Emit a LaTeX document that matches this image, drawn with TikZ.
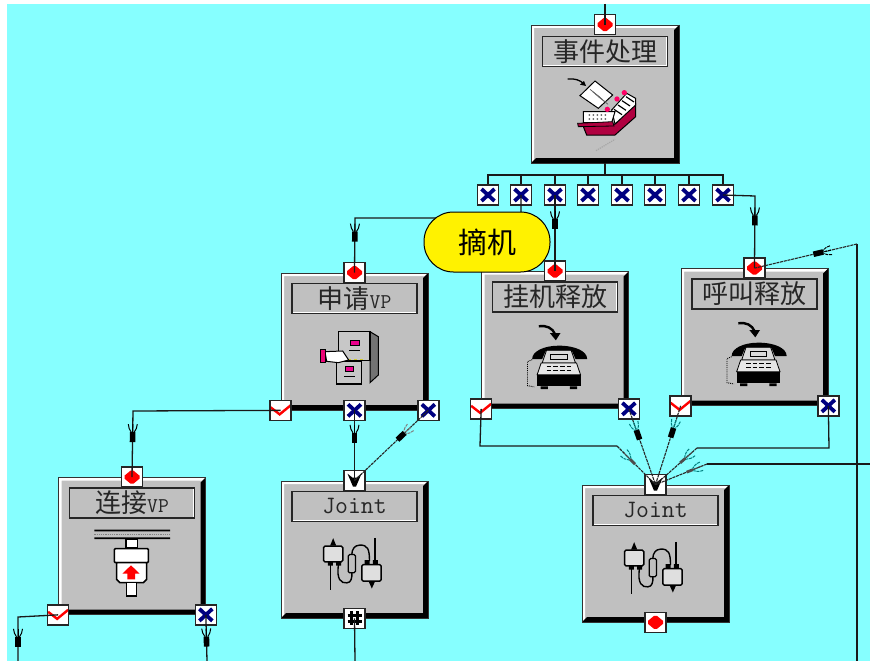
\documentclass[tikz,border=0pt]{standalone}
\usepackage{fontspec}
\newfontfamily\cjk{Noto Sans CJK SC}
\usetikzlibrary{arrows.meta, positioning, calc}
\definecolor{bgcyan}{HTML}{86FFFF}
\definecolor{panelgray}{HTML}{C0C0C0}
\definecolor{navyx}{HTML}{000080}
\definecolor{trayred}{HTML}{B00040}
\tikzset{
  wire/.style={draw=black!90, line width=1.3pt},
  slimwire/.style={draw=black!85, line width=1.1pt, dash pattern=on 3pt off .8pt},
  blockbox/.style={draw=black!80, line width=.7pt, fill=panelgray, minimum width=147pt,
    minimum height=137pt, inner sep=0pt, path picture={
      \fill[white] (path picture bounding box.south west) -- (path picture bounding box.north west)
        -- (path picture bounding box.north east) -- ([shift={(-3pt,-3pt)}]path picture bounding box.north east)
        -- ([shift={(3pt,-3pt)}]path picture bounding box.north west) -- ([shift={(3pt,3pt)}]path picture bounding box.south west) -- cycle;
      \fill[black] (path picture bounding box.north east) -- (path picture bounding box.south east)
        -- (path picture bounding box.south west) -- ([shift={(5pt,5pt)}]path picture bounding box.south west)
        -- ([shift={(-5pt,5pt)}]path picture bounding box.south east) -- ([shift={(-5pt,-5pt)}]path picture bounding box.north east) -- cycle;
    }},
  titlebox/.style={draw=black!85, line width=1.5pt, fill=panelgray, minimum width=125pt,
    minimum height=30pt, inner sep=0pt, text=black!85, font=\fontsize{26}{26}\selectfont,
    path picture={
      \draw[white, line width=2.4pt] (path picture bounding box.south west) -- (path picture bounding box.south east) -- (path picture bounding box.north east);
    }},
  portbox/.style={draw=black!85, line width=1.5pt, fill=white, minimum width=21pt, minimum height=20pt, inner sep=0pt},
  portdiamond/.style={portbox, path picture={
      \fill[red] ([shift={(-7.5pt,1.5pt)}]path picture bounding box.center) -- ([shift={(-1.5pt,6.5pt)}]path picture bounding box.center)
        -- ([shift={(1.5pt,6.5pt)}]path picture bounding box.center) -- ([shift={(7.5pt,1.5pt)}]path picture bounding box.center)
        -- ([shift={(7.5pt,-1.5pt)}]path picture bounding box.center) -- ([shift={(1.5pt,-6.5pt)}]path picture bounding box.center)
        -- ([shift={(-1.5pt,-6.5pt)}]path picture bounding box.center) -- ([shift={(-7.5pt,-1.5pt)}]path picture bounding box.center) -- cycle;
    }},
  portcross/.style={portbox, path picture={
      \draw[navyx, line width=3.8pt] ([shift={(-6.5pt,6pt)}]path picture bounding box.center) -- ([shift={(6.5pt,-6pt)}]path picture bounding box.center);
      \draw[navyx, line width=3.8pt] ([shift={(-6.5pt,-6pt)}]path picture bounding box.center) -- ([shift={(6.5pt,6pt)}]path picture bounding box.center);
    }},
  portcheck/.style={portbox, path picture={
      \draw[red, line width=2.4pt] ([shift={(-10pt,3pt)}]path picture bounding box.center) -- ([shift={(-1pt,-4pt)}]path picture bounding box.center)
        -- ([shift={(10pt,5pt)}]path picture bounding box.center);
    }},
  porthead/.style={portbox, path picture={
      \fill[black] ([shift={(-7pt,7pt)}]path picture bounding box.center) -- ([shift={(-1.5pt,-6pt)}]path picture bounding box.center)
        -- ([shift={(1.5pt,-6pt)}]path picture bounding box.center) -- ([shift={(7pt,7pt)}]path picture bounding box.center)
        -- ([shift={(2pt,3pt)}]path picture bounding box.center) -- ([shift={(-2pt,3pt)}]path picture bounding box.center) -- cycle;
    }},
  porthash/.style={portbox, path picture={
      \draw[black, line width=2.6pt] ([shift={(-3pt,7pt)}]path picture bounding box.center) -- ([shift={(-3pt,-7pt)}]path picture bounding box.center);
      \draw[black, line width=2.6pt] ([shift={(3pt,7pt)}]path picture bounding box.center) -- ([shift={(3pt,-7pt)}]path picture bounding box.center);
      \draw[black, line width=2.6pt] ([shift={(-7pt,3pt)}]path picture bounding box.center) -- ([shift={(7pt,3pt)}]path picture bounding box.center);
      \draw[black, line width=2.6pt] ([shift={(-7pt,-3pt)}]path picture bounding box.center) -- ([shift={(7pt,-3pt)}]path picture bounding box.center);
    }},
  eventbubble/.style={draw=black, line width=1pt, fill=yellow, rounded corners=29.5pt, minimum width=126pt,
    minimum height=60pt, inner sep=0pt, font=\fontsize{29}{29}\selectfont},
  pics/plug/.style={code={
    \fill[black] (0,-2.8) rectangle (10,2.8);
    \draw[#1, line width=1pt] (-8,-4.5) .. controls (-5,-4.5) and (-2,-3) .. (0,-1.5);
    \draw[#1, line width=1pt] (-8,4.5) .. controls (-5,4.5) and (-2,3) .. (0,1.5);
    \draw[#1, line width=1pt] (-8,0) -- (0,0);
  }},
  pics/thinplug/.style={code={
    \fill[black!70] (0,-1.4) rectangle (7,1.4);
    \draw[#1, line width=1pt] (-9,-4.5) .. controls (-5,-4.5) and (-2,-3) .. (0,-1.2);
    \draw[#1, line width=1pt] (-9,4.5) .. controls (-5,4.5) and (-2,3) .. (0,1.2);
    \draw[black!70, line width=1pt] (-9,0) -- (0,0);
  }},
  slimplug/.style={pos=#1, sloped, allow upside down},
  pics/phoneicon/.style={code={
    \begin{scope}[scale=1/3, shift={(-283.5,-351)}]
      \draw[black, line width=2.4pt] (235,310) .. controls (258,306) and (276,315) .. (284,334);
      \fill[black] (268,330) -- (300,330) -- (286,352) -- cycle;
      \fill[black] (215,408) .. controls (215,385) and (250,368) .. (295,368) .. controls (345,368) and (380,385) .. (380,408) -- (345,408) -- (335,385) -- (255,385) -- (245,408) -- cycle;
      \fill[panelgray!60!white, draw=black, line width=.8pt] (258,382) -- (332,382) -- (345,420) -- (245,420) -- cycle;
      \fill[panelgray!40!white, draw=black, line width=.8pt] (242,420) -- (348,420) -- (360,455) -- (230,455) -- cycle;
      \foreach \kx in {258,278,298,318} { \draw[black, line width=.8pt] (\kx,430) -- ++(14,0) (\kx,442) -- ++(14,0); }
      \draw[black, line width=.8pt] (270,395) rectangle (320,408);
      \fill[black] (230,455) rectangle (360,490);
      \fill[black] (240,490) rectangle (262,498) (328,490) rectangle (350,498);
      \draw[black, line width=.9pt, densely dotted] (215,410) -- (201,416) -- (201,488) -- (222,492);
    \end{scope}
  }},
  pics/jointicon/.style={code={
    \begin{scope}[scale=1/3, shift={(-585,-490)}]
      \draw[black, line width=1.5pt, rounded corners=1.5pt, fill=panelgray!50!white] (492,480) rectangle (550,527);
      \draw[black, line width=1.5pt, rounded corners=1.5pt, fill=panelgray!50!white] (607,535) rectangle (665,585);
      \fill[black] (512,478) -- (521,456) -- (530,478) -- cycle;
      \fill[black] (628,587) -- (637,607) -- (646,587) -- cycle;
      \fill[black] (505,528) rectangle (520,538) (530,528) rectangle (545,538);
      \fill[black] (615,522) rectangle (630,534) (640,522) rectangle (655,534);
      \draw[black, line width=1.6pt] (513,535) -- (513,610);
      \draw[black, line width=1.6pt] (647,455) -- (647,525);
      \draw[black, line width=1.4pt] (537,535) .. controls (530,580) and (545,592) .. (562,590) .. controls (575,590) and (578,575) .. (577,560);
      \draw[black, line width=1.4pt] (577,505) .. controls (577,490) and (585,477) .. (600,477) .. controls (625,475) and (630,490) .. (630,525);
      \draw[black, line width=1.2pt, fill=black!25, rounded corners=1.5pt] (566,505) rectangle (588,560);
    \end{scope}
  }},
  pics/cardicon/.style={code={
    \begin{scope}[scale=1/3, shift={(-405,-282)}]
      \draw[black, line width=1.3pt] (293,237) .. controls (315,235) and (330,240) .. (342,252);
      \fill[black] (330,254) -- (348,258) -- (342,243) -- cycle;
      \draw[black, line width=1pt, fill=trayred] (340,380) -- (435,372) -- (497,312) -- (497,350) -- (435,405) -- (350,405) -- cycle;
      \draw[black, line width=1pt, fill=white] (425,330) -- (470,280) -- (497,295) -- (497,315) -- (435,372) -- cycle;
      \foreach \tx/\ty in {432/328, 444/315, 456/302, 468/290} { \draw[black, line width=1.2pt] (\tx,\ty) -- ++(24,16); }
      \draw[black, line width=1pt, fill=white] (375,243) -- (428,285) -- (385,325) -- (330,287) -- cycle;
      \foreach \lx in {0,1,2,3} { \draw[black!60, line width=.8pt] (360+8*\lx,268+7*\lx) -- ++(30,24); }
      \draw[black, line width=1pt, fill=white] (340,335) -- (435,335) -- (425,368) -- (340,368) -- cycle;
      \foreach \dx in {358,370,382,394,406} { \fill[black!60] (\dx,345) circle (3) (\dx,357) circle (3); }
      \fill[trayred, draw=black, line width=.8pt] (323,370) -- (428,365) -- (432,378) -- (325,380) -- cycle;
      \fill[red!60!magenta] (463,278) circle (8) (441,297) circle (8) (412,328) circle (8);
      \draw[black!35, line width=1.2pt, densely dotted] (378,452) -- (435,418);
    \end{scope}
  }},
  pics/cabineticon/.style={code={
    \begin{scope}[scale=1/3, shift={(-253.5,-424.5)}]
      \draw[black, line width=1pt, fill=black!55] (300,395) -- (325,410) -- (325,525) -- (300,548) -- cycle;
      \draw[black, line width=1.2pt, fill=black!22] (205,395) rectangle (300,482);
      \draw[black, line width=1pt, fill=magenta] (240,422) rectangle (268,437);
      \draw[black, line width=.9pt] (238,450) -- (270,450);
      \draw[black, line width=1.2pt, fill=black!22] (200,485) rectangle (275,552);
      \draw[black, line width=1pt, fill=magenta] (225,500) rectangle (250,515);
      \draw[black, line width=.9pt] (222,530) -- (255,530);
      \draw[yellow!80!black, line width=1.2pt, dashed] (235,478) -- (288,478);
      \draw[black, line width=1pt, fill=white] (165,455) -- (218,453) -- (236,480) -- (205,488) -- (170,484) -- cycle;
      \draw[black, line width=1pt, fill=magenta!80!red] (150,447) rectangle (165,486);
    \end{scope}
  }},
  pics/pumpicon/.style={code={
    \begin{scope}[scale=1/3, shift={(-396,-435)}]
      \fill[black] (283,386) rectangle (510,391) (283,409) rectangle (510,414);
      \draw[black!50, line width=1.2pt, densely dotted] (283,400) -- (510,400);
      \draw[black, line width=1.2pt, fill=white] (378,414) rectangle (412,440);
      \draw[black, line width=1.6pt, fill=white, rounded corners=1pt] (343,443) rectangle (445,485);
      \draw[black, line width=1.6pt, fill=white] (350,485) -- (440,485) -- (440,535) -- (430,545) -- (360,545) -- (350,535) -- cycle;
      \draw[black, line width=1.2pt, fill=white] (380,545) rectangle (410,585);
      \fill[red] (393,493) -- (419,518) -- (405,518) -- (405,535) -- (382,535) -- (382,518) -- (367,518) -- cycle;
    \end{scope}
  }},
}

\begin{document}
\begin{tikzpicture}[x=1pt, y=-1pt]
  \useasboundingbox (0,0) rectangle (870,661);
  \fill[bgcyan] (7,4) rectangle (870,661);

  % blocks
  \node[blockbox, minimum width=148pt, minimum height=138pt] (ev) at (605,94) {};
  \node[blockbox] (ap) at (354.5,341.5) {};
  \node[blockbox] (ha) at (555,340) {};
  \node[blockbox] (ca) at (754.5,337) {};
  \node[blockbox] (li) at (132,546) {};
  \node[blockbox] (jl) at (354.5,549.5) {};
  \node[blockbox] (jr) at (655.5,553.5) {};

  \node[titlebox, below=11pt of ev.north] (evtitle) {\cjk 事件处理};
  \node[titlebox, below=10pt of ap.north] (aptitle) {\cjk 申请\fontsize{21}{21}\selectfont\ttfamily VP};
  \node[titlebox, below=10pt of ha.north] (hatitle) {\cjk 挂机释放};
  \node[titlebox, below=10pt of ca.north] (catitle) {\cjk 呼叫释放};
  \node[titlebox, below=10pt of li.north] (lititle) {\cjk 连接\fontsize{21}{21}\selectfont\ttfamily VP};
  \node[titlebox, below=10pt of jl.north, font=\fontsize{25}{25}\selectfont\ttfamily] (jltitle) {Joint};
  \node[titlebox, below=10pt of jr.north, font=\fontsize{25}{25}\selectfont\ttfamily] (jrtitle) {Joint};

  \pic at (ev.center) {cardicon};
  \pic at (ap.center) {cabineticon};
  \pic at (ha.center) {phoneicon};
  \pic at (ca.center) {phoneicon};
  \pic at (li.center) {pumpicon};
  \pic at (jl.center) {jointicon};
  \pic at (jr.center) {jointicon};

  % ports
  \node[portdiamond] (evin) at (ev.north) {};
  \node[portdiamond] (apin) at (ap.north) {};
  \node[portdiamond] (cain) at (ca.north) {};
  \node[portdiamond] (liin) at (li.north) {};
  \node[porthead] (jlin) at (jl.north) {};
  \node[porthead] (jrin) at (jr.north) {};
  \node[portdiamond] (jrout) at (jr.south) {};
  \node[porthash] (jlout) at (jl.south) {};
  \node[portcheck] (apok) at (ap.south west) {};
  \node[portcross] (apmid) at (ap.south) {};
  \node[portcross] (apend) at (ap.south east) {};
  \node[portcheck] (haok) at (ha.south west) {};
  \node[portcross] (haend) at (ha.south east) {};
  \node[portcheck] (caok) at (ca.south west) {};
  \node[portcross] (caend) at (ca.south east) {};
  \node[portcheck] (liok) at (li.south west) {};
  \node[portcross] (liend) at (li.south east) {};

  \coordinate (feed) at (605,4);
  \coordinate (bus) at (605,175);
  \draw[wire] (feed) -- (evin.center);
  \draw[wire] (ev.south) -- (bus);
  \foreach \i/\x in {1/488, 2/521, 3/555, 4/588, 5/622, 6/655, 7/689, 8/723} {
    \node[portcross] (x\i) at (\x,195) {};
    \draw[wire] (bus) -| (x\i.north);
  }

  % wire under the bubble
  \coordinate (c2) at (355,218);
  \draw[wire] (x2.center) |- (c2) -- (apin.center) pic[slimplug=.25] {plug=black};

  \node[eventbubble] (bubble) at (487,242) {\cjk 摘机};
  \node[portdiamond] (hain) at (ha.north) {};

  \coordinate (c8) at (755,196);
  \coordinate (c9) at (133,411);
  \coordinate (c10) at (18,617);
  \coordinate (c11) at (480,446);
  \coordinate (c12) at (617,446);
  \coordinate (c13) at (829,448);
  \coordinate (c14) at (697,448);
  \coordinate (c15) at (870,464);
  \coordinate (c16) at (707,464);
  \coordinate (longtop) at (857,244);
  \coordinate (longend) at (857,661);
  \coordinate (liokend) at (18,661);
  \coordinate (liendend) at (207,661);
  \coordinate (jlend) at (355,661);

  \draw[wire] (x3.center) -- (hain.center) pic[slimplug=.32] {plug=black};
  \draw[wire] (x8.center) -- (c8) -- (cain.center) pic[slimplug=.27] {plug=black};
  \draw[wire] (longend) -- (longtop);
  \draw[slimwire] (longtop) -- (cain.center) pic[slimplug=.33] {plug=black};
  \draw[wire] (apok.center) -- (c9) -- (liin.center) pic[slimplug=.32] {plug=black};
  \draw[wire] (apmid.center) -- (jlin.center) pic[slimplug=.32] {plug=black};
  \draw[slimwire] (apend.center) -- (jlin.center) pic[slimplug=.32] {plug=black!50};
  \draw[wire] (liok.center) -- (c10) -- (liokend) pic[slimplug=.45] {plug=black};
  \draw[wire] (liend.center) -- (liendend) pic[slimplug=.47] {plug=black};
  \draw[wire] (jlout.center) -- (jlend);

  \draw[wire] (haok.center) -- (c11) -- (c12);
  \draw[slimwire] (c12) -- (jrin.center) pic[slimplug=.34] {thinplug=teal};
  \draw[slimwire] (haend.center) -- (jrin.center) pic[slimplug=.28] {plug=teal};
  \draw[slimwire] (caok.center) -- (jrin.center) pic[slimplug=.28] {plug=teal};
  \draw[wire] (caend.center) -- (c13) -- (c14);
  \draw[slimwire] (c14) -- (jrin.center) pic[slimplug=.28] {thinplug=teal};
  \draw[wire] (c15) -- (c16);
  \draw[slimwire] (c16) -- (jrin.center) pic[slimplug=.27] {thinplug=teal};
\end{tikzpicture}
\end{document}
